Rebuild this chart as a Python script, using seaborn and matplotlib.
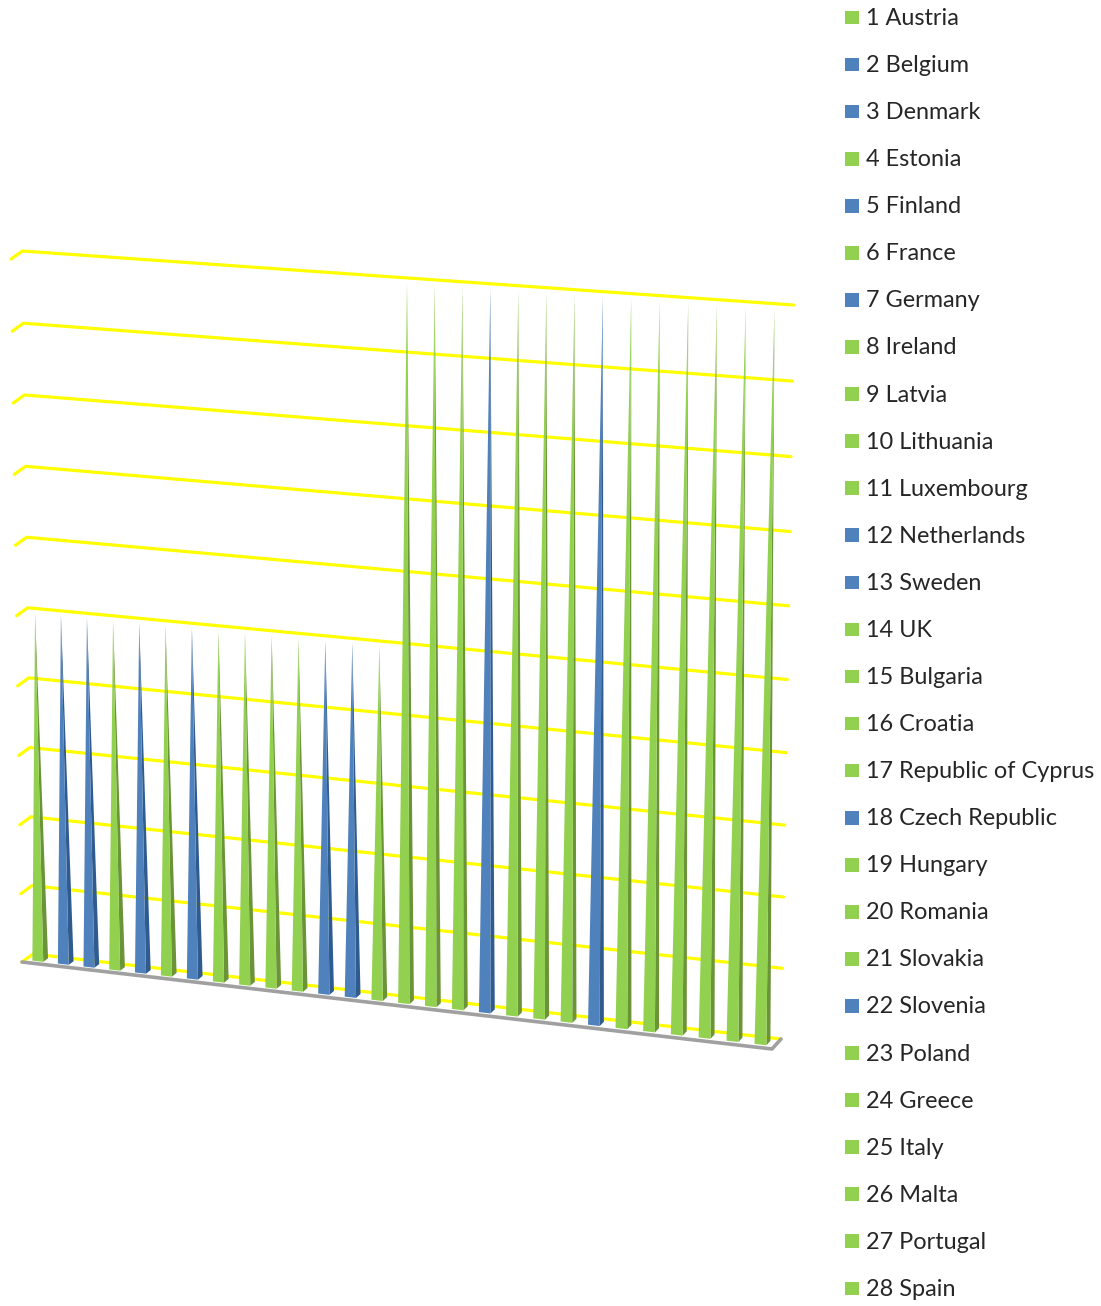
import matplotlib
matplotlib.use("Agg")
import matplotlib.pyplot as plt
from matplotlib.patches import Polygon
import numpy as np
import pandas as pd
import seaborn as sns

countries = ["Austria", "Belgium", "Denmark", "Estonia", "Finland", "France", "Germany",
             "Ireland", "Latvia", "Lithuania", "Luxembourg", "Netherlands", "Sweden", "UK",
             "Bulgaria", "Croatia", "Republic of Cyprus", "Czech Republic", "Hungary",
             "Romania", "Slovakia", "Slovenia", "Poland", "Greece", "Italy", "Malta",
             "Portugal", "Spain"]
scores = [5, 5, 5, 5, 5, 5, 5, 5, 5, 5, 5, 5, 5, 5,
          10, 10, 10, 10, 10, 10, 10, 10, 10, 10, 10, 10, 10, 10]
groups = ["A", "B", "B", "A", "B", "A", "B", "A", "A", "A", "A", "B", "B", "A",
          "A", "A", "A", "B", "A", "A", "A", "B", "A", "A", "A", "A", "A", "A"]
levels = list(range(11))

FRONT = {"A": "#92D050", "B": "#4F81BD"}
SIDE = {"A": "#6B9338", "B": "#2F5B8E"}
YELLOW = "#FFFF00"
FLOOR = "#A0A0A0"
TEXT = "#262626"


def project(u, d, v):
    """Oblique 3D view: u runs along the categories, d into the depth, v up the value axis."""
    u, d, v = np.asarray(u, float), np.asarray(d, float), np.asarray(v, float)
    w = u + 0.05 * (u * u - u)
    x_front, y_front = 22 + 750 * w, 962 + 87 * w
    x_back, y_back = 33 + 748 * w, 954 + 85 * w
    x = x_front + (x_back - x_front) * d
    y = y_front + (y_back - y_front) * d
    x = x + (x - 375) * 0.0031 * v
    y = y - (68.2 + 2.2 * w) * v - (0.21 + 0.09 * w) * v * v
    return x, y


sns.set_theme(style="white")
plt.rcParams["font.family"] = ["Lato", "DejaVu Sans"]

fig = plt.figure(figsize=(11.01, 13.06), dpi=100)
ax = fig.add_axes([0, 0, 1, 1])

# Value gridlines: a short stub on the side wall, then the long run on the back wall
rows = []
for level in levels:
    for u, d in [(0, 0), (0, 1), (1, 1)]:
        px, py = project(u, d, level)
        rows.append({"level": level, "x": float(px), "y": float(py)})
grid = pd.DataFrame(rows)
sns.lineplot(data=grid, x="x", y="y", units="level", estimator=None, sort=False,
             color=YELLOW, linewidth=2.3, ax=ax, zorder=1)

# Front and right edge of the floor
edge_x, edge_y = project([0, 1, 1], [0, 0, 1], [0, 0, 0])
sns.lineplot(x=edge_x, y=edge_y, estimator=None, sort=False, color=FLOOR,
             linewidth=2.6, ax=ax, zorder=2)

# One four-sided pyramid per country
n = len(countries)
half_w, half_d = 0.0076, 0.22
for i, (score, group) in enumerate(zip(scores, groups)):
    uc = (i + 0.5) / n
    apex = project(uc, 0.5, score)
    fl = project(uc - half_w, 0.5 - half_d, 0)
    fr = project(uc + half_w, 0.5 - half_d, 0)
    br = project(uc + half_w, 0.5 + half_d, 0)
    ax.add_patch(Polygon([br, fr, apex], closed=True, facecolor=SIDE[group],
                         edgecolor="none", zorder=3))
    ax.add_patch(Polygon([fl, fr, apex], closed=True, facecolor=FRONT[group],
                         edgecolor="none", zorder=4))

# Legend column
row_y = 17.5 + 47.07 * np.arange(n)
legend = pd.DataFrame({"x": 852.0, "y": row_y, "group": groups})
sns.scatterplot(data=legend, x="x", y="y", hue="group", palette=FRONT, marker="s",
                s=97, linewidth=0, legend=False, ax=ax, zorder=5)
for i, (name, y) in enumerate(zip(countries, row_y)):
    ax.text(866, y + 1, f"{i + 1} {name}", fontsize=16.9, color=TEXT, va="center", ha="left")

ax.set_xlim(0, 1101)
ax.set_ylim(1306, 0)
ax.set_axis_off()
fig.savefig("out.png", dpi=100, facecolor="white")
